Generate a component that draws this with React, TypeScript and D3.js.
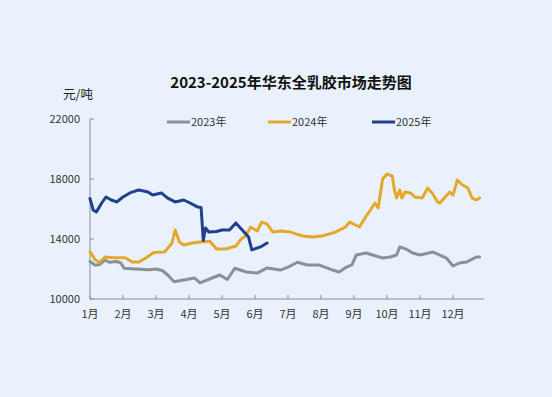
import React from "react";
import * as d3 from "d3";

const W = 552;
const H = 397;
const margin = { top: 119, right: 66, bottom: 98, left: 90 };

const months = ["1月", "2月", "3月", "4月", "5月", "6月", "7月", "8月", "9月", "10月", "11月", "12月"];
const yTicks = [10000, 14000, 18000, 22000];

// 2023 (gray)
const dates2023 = ["01-01", "01-06", "01-10", "01-15", "01-19", "01-26", "01-30", "02-02", "02-12", "02-24", "03-01", "03-07", "03-12", "03-18", "03-27", "04-06", "04-11", "04-22", "04-29", "05-06", "05-13", "05-24", "06-03", "06-12", "06-24", "07-01", "07-10", "07-19", "07-30", "08-12", "08-18", "08-25", "08-30", "09-03", "09-12", "09-18", "09-27", "10-04", "10-10", "10-13", "10-19", "10-25", "11-01", "11-13", "11-19", "11-25", "12-01", "12-07", "12-14", "12-23", "12-26"];
const values2023 = [12500, 12250, 12300, 12600, 12450, 12500, 12400, 12050, 12000, 11950, 12000, 11900, 11600, 11150, 11270, 11400, 11070, 11400, 11600, 11300, 12050, 11800, 11730, 12070, 11930, 12130, 12450, 12270, 12270, 11930, 11800, 12130, 12270, 12930, 13070, 12930, 12730, 12800, 12930, 13470, 13330, 13070, 12930, 13130, 12930, 12730, 12200, 12400, 12470, 12800, 12800];

// 2024 (gold)
const dates2024 = ["01-01", "01-06", "01-10", "01-15", "01-24", "02-03", "02-09", "02-15", "02-21", "02-28", "03-09", "03-16", "03-19", "03-23", "03-27", "04-04", "04-11", "04-20", "04-26", "05-05", "05-14", "05-19", "05-23", "05-28", "06-03", "06-07", "06-12", "06-17", "06-24", "07-03", "07-09", "07-15", "07-24", "08-02", "08-15", "08-24", "08-28", "09-06", "09-12", "09-16", "09-20", "09-23", "09-27", "10-01", "10-06", "10-08", "10-10", "10-13", "10-15", "10-18", "10-23", "10-27", "11-03", "11-08", "11-12", "11-17", "11-19", "11-24", "11-28", "12-01", "12-05", "12-10", "12-15", "12-19", "12-23", "12-26"];
const values2024 = [13150, 12600, 12450, 12800, 12750, 12750, 12470, 12470, 12730, 13100, 13130, 13730, 14600, 13800, 13600, 13730, 13800, 13850, 13330, 13330, 13530, 14000, 14200, 14800, 14530, 15130, 15000, 14470, 14530, 14470, 14330, 14200, 14130, 14200, 14470, 14800, 15130, 14800, 15530, 15930, 16400, 16070, 18000, 18330, 18200, 17270, 16730, 17270, 16730, 17130, 17070, 16800, 16730, 17400, 17070, 16470, 16400, 16800, 17130, 16930, 17930, 17600, 17400, 16730, 16600, 16730];

// 2025 (navy)
const dates2025 = ["01-01", "01-04", "01-07", "01-12", "01-16", "01-21", "01-26", "02-01", "02-07", "02-15", "02-23", "02-27", "03-06", "03-12", "03-19", "03-27", "04-02", "04-09", "04-12", "04-14", "04-16", "04-19", "04-26", "05-01", "05-08", "05-14", "05-20", "05-26", "05-29", "06-06", "06-12"];
const values2025 = [16700, 15930, 15800, 16400, 16800, 16600, 16470, 16800, 17070, 17270, 17130, 16930, 17070, 16730, 16470, 16600, 16400, 16130, 16100, 13900, 14730, 14470, 14500, 14600, 14600, 15070, 14600, 14130, 13270, 13470, 13730];

const seriesNames = ["2023年", "2024年", "2025年"];
const seriesColors = ["#8b9096", "#e4a82c", "#213f8b"];

const daysIn = [31, 29, 31, 30, 31, 30, 31, 31, 30, 31, 30, 31];
const toPos = (s: string) => {
  const [m, d] = s.split("-").map(Number);
  return m - 1 + (d - 1) / daysIn[m - 1];
};

const font = "'Noto Sans CJK SC', 'Noto Sans', sans-serif";

export default function App() {
  const x = d3.scaleLinear().domain([0, 12]).range([margin.left, W - margin.right]);
  const y = d3.scaleLinear().domain([10000, 22000]).range([H - margin.bottom, margin.top]);

  const line = d3
    .line<[number, number]>()
    .x((d) => x(d[0]))
    .y((d) => y(d[1]))
    .curve(d3.curveLinear);

  const series = [
    dates2023.map((d, i) => [toPos(d), values2023[i]] as [number, number]),
    dates2024.map((d, i) => [toPos(d), values2024[i]] as [number, number]),
    dates2025.map((d, i) => [toPos(d), values2025[i]] as [number, number]),
  ];

  const axisColor = "#8a8f96";
  const legendX = [167, 268, 372];
  const axisRight = 484;

  return (
    <div style={{ position: "fixed", left: 0, top: 0, width: W, height: H, background: "#e9f2fc" }}>
      <svg width={W} height={H} style={{ display: "block" }} fontFamily={font}>
        <rect width={W} height={H} fill="#e9f2fc" />
        <text x={291} y={88} textAnchor="middle" fontSize={15} fontWeight="bold" fill="#111">
          2023-2025年华东全乳胶市场走势图
        </text>
        <text x={63} y={99} fontSize={12.5} fill="#222">
          元/吨
        </text>

        {seriesNames.map((n, i) => (
          <g key={n}>
            <line x1={legendX[i]} x2={legendX[i] + 23} y1={122} y2={122} stroke={seriesColors[i]} strokeWidth={3} />
            <text x={legendX[i] + 24} y={126} fontSize={11} fill="#333">
              {n}
            </text>
          </g>
        ))}

        {/* axes */}
        <line x1={x(0)} x2={x(0)} y1={y(22000)} y2={y(10000)} stroke={axisColor} strokeWidth={1} />
        <line x1={x(0)} x2={axisRight} y1={y(10000)} y2={y(10000)} stroke={axisColor} strokeWidth={1} />
        {yTicks.map((t) => (
          <g key={t}>
            <line x1={x(0)} x2={x(0) + 4} y1={y(t)} y2={y(t)} stroke={axisColor} />
            <text x={80} y={y(t) + 4} textAnchor="end" fontSize={11} fill="#333">
              {t}
            </text>
          </g>
        ))}
        {months.map((m, i) => (
          <g key={m}>
            <line x1={x(i)} x2={x(i)} y1={y(10000)} y2={y(10000) - 4} stroke={axisColor} />
            <text x={x(i)} y={318} textAnchor="middle" fontSize={11} fill="#333">
              {m}
            </text>
          </g>
        ))}

        {series.map((s, i) => (
          <path
            key={i}
            d={line(s) || ""}
            fill="none"
            stroke={seriesColors[i]}
            strokeWidth={3}
            strokeLinejoin="round"
            strokeLinecap="round"
          />
        ))}
      </svg>
    </div>
  );
}
